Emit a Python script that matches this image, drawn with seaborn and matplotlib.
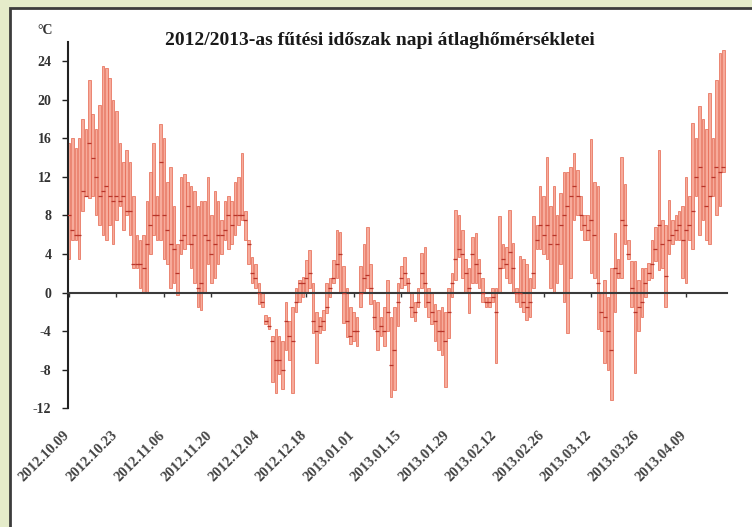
import numpy as np
import pandas as pd
import matplotlib
matplotlib.use("Agg")
import matplotlib.pyplot as plt
import matplotlib.transforms as mtransforms
from matplotlib.patches import Rectangle
import seaborn as sns

# daily max / min / mean temperature, 2012.10.09 - 2013.04.20
tmax = [15.5, 16, 15, 16, 18, 17, 22, 18.5, 17, 19.5, 23.5, 23.3, 22.3, 20,
        18.8, 15.5, 13.5, 14.8, 13.5, 10, 6, 5.5, 6, 9.5, 12.5, 15.5, 10, 17.5,
        16, 11.5, 13, 9, 5, 12, 12.3, 11.5, 11, 10.5, 9, 9.5, 9.5, 12,
        8, 10.5, 9.5, 7.5, 9.5, 10, 9.5, 11.5, 12, 14.5, 8.5, 5.5, 3.7, 3,
        1, 0, -2.3, -2.5, -4.5, -3.8, -4.5, -5, -1, -3, -1.5, 0.5, 1.3, 1.6,
        3.4, 4.4, 1, -2, -2.5, -1.8, 1, 1.5, 3.4, 6.5, 6.3, 2.7, 0.5, -1.5,
        -2, -2.5, 2.7, 5, 6.8, 3, -0.8, -1, -2.5, -1.5, 1.3, -2.5, -1.5, 1,
        2.7, 3.7, 1.5, 0, -1, 0.5, 4.1, 4.7, 0.5, 0, -1.2, -1.8, -1.5, -2,
        0.5, 2, 8.6, 8, 6.5, 3.5, 2.5, 5.8, 6.2, 3.5, 1.5, -0.5, -0.5, 0.5,
        0.5, 7.9, 5, 4.7, 8.6, 5.1, 0.5, 3.8, 3.5, 3, 1.5, 7.9, 7, 11,
        10, 14.1, 9, 11, 8, 10.3, 12.5, 12.5, 13, 14.5, 12.7, 10, 8, 8,
        15.9, 11.5, 11, 0, 1.3, -0.5, 2.5, 6.2, 3.5, 14.1, 11.3, 5.5, 3.3, 3.3,
        1.3, 2.5, 2.5, 3.1, 5.5, 6.8, 14.8, 7.5, 7, 9.6, 7.5, 8, 8.5, 9,
        12, 10, 17.6, 16, 19.3, 18, 17, 20.7, 16, 22, 24.8, 25.2]
tmin = [3.5, 5.5, 5.5, 3.5, 8.5, 10, 9.8, 10, 8, 7, 6, 5.5, 7, 5,
        7.5, 9, 6.5, 8, 6, 2.5, 2.5, 0.5, 0, 0, 4, 6, 5.5, 5.5,
        3.5, 3, 0.5, 1, -0.3, 4, 4.5, 5, 2.5, 1, -1.5, -1.8, 0, 3,
        1, 1.5, 3, 4, 5.5, 4.5, 5, 6, 7, 7.5, 5.5, 3, 1, 0.5,
        -1.2, -1.5, -3.3, -3.8, -9.3, -10.4, -8.5, -10, -6, -7, -10.4, -2, -1, -0.5,
        0, 0.5, -4.2, -7.3, -4.2, -3.9, -2.1, -0.5, 1, 1.5, 0, -3.2, -4.6, -5.3,
        -5, -5.5, -1.5, 0, 0.5, -1.2, -3.8, -6, -4.5, -5.5, -4, -10.8, -10.1, -3.5,
        0.5, 0.8, 0, -2.5, -3, -1.5, 0.5, -1.5, -2.5, -3.3, -5, -6, -6.5, -9.8,
        -4.7, -0.5, 1.3, 3.7, 1.5, 0, -2.1, 1, 1, 0.5, -1, -1.5, -1.5, -1,
        -7.3, 0, 2.5, 1.5, 1, 0, -1, -1.5, -2, -2.8, -2.5, 0.5, 4.5, 4.5,
        4, 3.5, 0.5, 0, 1, 3, -1, -4.2, 1.5, 7.5, 8, 6.5, 5.5, 5.5,
        2, 1.5, -3.8, -4, -7.3, -8, -11.2, -2, 1.5, 1.5, 5, 3.5, -1.5, -8.3,
        -4, -2.5, -0.5, 1.3, 1.5, 3.3, 2.3, 2.5, -1.5, 4, 5, 5.5, 5.5, 1.5,
        1, 5.5, 4.5, 10, 6, 7.5, 5.5, 5, 10, 8, 9, 12.5]
tmean = [8, 6.5, 6, 6, 10.5, 10, 15.5, 14, 12, 10, 10.5, 11, 10, 9.5,
         10, 9.5, 10, 8.5, 8.5, 3, 3, 3, 2.5, 5, 7, 8, 8, 13.5,
         8, 6.5, 5, 4.5, 2, 5.5, 6, 9, 5, 6, 0.5, 1, 6, 5.5,
         4, 5, 6, 6, 6.5, 8, 7, 8, 8, 8, 7.5, 5, 2, 1.5,
         0, -1, -3, -3.5, -5, -7, -7, -8, -3, -4.5, -5, -1, 1, 1,
         1.5, 2, -3, -4, -3.5, -3, -1.5, 0.5, 1.5, 3, 4, 0, -3, -4.5,
         -4, -4, 0, 1.5, 1.8, 0.5, -2.5, -4, -3.5, -4, -2, -7.5, -6, -1,
         1.5, 2, 1, -1.5, -2, -1, 2, 1, -1, -2, -3, -4, -4, -5,
         -2, 1, 3.5, 4.5, 4, 2, 0.5, 4, 3, 2, 0, -1, -1, -0.5,
         -2, 2.5, 3.5, 3, 4.2, 2.5, 0, 0, -1, -1.5, -1, 2, 5.5, 7,
         6, 7, 5, 6, 5, 7, 8, 9, 10, 11, 10, 8, 7, 6.5,
         7.5, 6, 1, -2, -2.5, -4, -6, 2.5, 2, 7.5, 7, 4, 0.5, -2,
         -1.5, -1, 1, 2, 3, 4.5, 7, 5, 1.7, 5.5, 6, 6.5, 7, 5.5,
         6.5, 7, 8.5, 12, 13, 11, 9, 10, 12, 13, 12.5, 13]

tick_labels = ["2012.10.09", "2012.10.23", "2012.11.06", "2012.11.20", "2012.12.04",
               "2012.12.18", "2013.01.01", "2013.01.15", "2013.01.29", "2013.02.12",
               "2013.02.26", "2013.03.12", "2013.03.26", "2013.04.09"]
y_ticks = [-12, -8, -4, 0, 4, 8, 12, 16, 20, 24]

start = pd.Timestamp("2012-10-09")
df = pd.DataFrame({"date": pd.date_range(start, periods=len(tmax)),
                   "tmax": tmax, "tmin": tmin, "tmean": tmean})
df["day"] = (df["date"] - start).dt.days
tick_pos = [(pd.Timestamp(t.replace(".", "-")) - start).days for t in tick_labels]

sns.set_theme(style="white")
plt.rcParams["font.family"] = ["Liberation Serif", "DejaVu Serif"]

fig = plt.figure(figsize=(7.52, 5.27), dpi=100, facecolor="#e5ecca")
# white panel with dark frame, drawn behind the axes
bg = fig.add_axes([0, 0, 1, 1], zorder=-5)
bg.set_axis_off()
bg.set_xlim(0, 1)
bg.set_ylim(0, 1)
bg.add_patch(Rectangle((10 / 752, -0.02), 1.0, 1 - 8 / 527 + 0.02,
                       facecolor="white", edgecolor="#3c3c3c", linewidth=2))

ax = fig.add_axes([68 / 752, 1 - 408.2 / 527, 659 / 752, 366.3 / 527])
ax.set_facecolor("none")

ax.bar(df["day"], df["tmax"] - df["tmin"], bottom=df["tmin"], width=0.75,
       color="#f7ab9b", edgecolor="#e5664f", linewidth=0.5, zorder=2)
sns.scatterplot(data=df, x="day", y="tmean", marker="_", s=7, linewidth=0.9,
                color="#b8352a", ax=ax, zorder=3, legend=False)

ax.set_xlim(-0.3, 194.1)
ax.set_ylim(-12, 26)
ax.set_xlabel("")
ax.set_ylabel("")

for s in ["top", "right"]:
    ax.spines[s].set_visible(False)
ax.spines["left"].set_color("#222222")
ax.spines["left"].set_linewidth(1.5)
ax.spines["left"].set_bounds(-12, 26)
ax.spines["bottom"].set_position(("data", 0))
ax.spines["bottom"].set_color("#3a3a3a")
ax.spines["bottom"].set_linewidth(1.5)

ax.set_yticks(y_ticks)
ax.set_yticklabels([str(v) for v in y_ticks], fontsize=10, fontweight="bold",
                   color="#333333")
ax.set_xticks(tick_pos)
ax.set_xticklabels(tick_labels, fontsize=10.5, fontweight="bold", color="#444444",
                   rotation=45, ha="right", rotation_mode="anchor")
ax.tick_params(axis="y", direction="out", length=4, width=1, color="#222222",
               left=True, pad=8)
ax.tick_params(axis="x", direction="out", length=3, width=1, color="#333333",
               bottom=True, pad=95)
shift = mtransforms.ScaledTranslation(-6 / 100, 0, fig.dpi_scale_trans)
for lab in ax.get_xticklabels():
    lab.set_transform(lab.get_transform() + shift)

fig.text(0.505, 0.923, "2012/2013-as fűtési időszak napi átlaghőmérsékletei",
         ha="center", va="center", fontsize=14, fontweight="bold", color="#1a1a1a")
fig.text(0.06, 0.943, "°C", ha="center", va="center", fontsize=10,
         fontweight="bold", color="#333333")

fig.savefig("out.png", dpi=100, facecolor=fig.get_facecolor())
